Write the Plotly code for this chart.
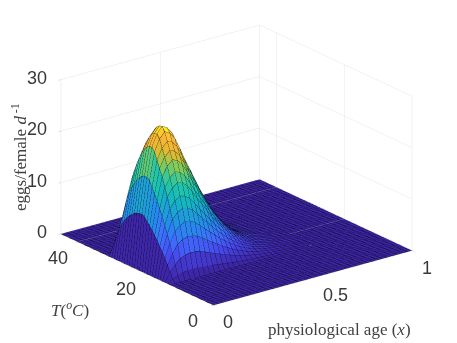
import math
import plotly.graph_objects as go
from plotly.colors import sample_colorscale

x_values = [round(i * 0.025, 3) for i in range(41)]
temperature_values = [i * 0.75 for i in range(61)]
# height along the ridge
age_profile = [0, 10.5, 17.5, 23, 25.3, 26.5, 26, 24.7, 22.5, 20, 17.8, 15.5, 13.2, 11.2, 9.3, 7.6, 6.1,
               4.8, 3.7, 2.8, 2.1, 1.5, 1.1, .8, .55, .35, .2, .1, .05, 0, 0, 0, 0, 0, 0, 0, 0, 0, 0, 0, 0]
# relative height across temperature
temp_profile = [0] * 18 + [.06, .17, .28, .38, .47, .55, .64, .71, .79, .85, .91, .97, 1,
                           .995, .98, .95, .91, .86, .8, .73, .65, .52, .38, .2, .05] + [0] * 18
parula = ["#3e26a8", "#4747eb", "#3e6ffe", "#238cea", "#1ea3d4", "#12beb9", "#31c69f",
          "#81cc59", "#e6b82e", "#fdb73c", "#f9fb15"]
z_ticks = [0, 10, 20, 30]
x_ticks = [0, 0.5, 1]
t_ticks = [0, 20, 40]
x_tick_labels = ["0", "0.5", "1"]
t_tick_labels = ["0", "20", "40"]
z_tick_labels = ["0", "10", "20", "30"]

heights = [[a * t for a in age_profile] for t in temp_profile]
zmax = 26.5
scale = [[i / (len(parula) - 1), c] for i, c in enumerate(parula)]
nx, nt = len(x_values), len(temperature_values)

vx, vy, vz = [], [], []
for j in range(nt):
    for i in range(nx):
        vx.append(x_values[i]); vy.append(temperature_values[j]); vz.append(heights[j][i])
ti, tj, tk, fc = [], [], [], []
for j in range(nt - 1):
    for i in range(nx - 1):
        a = j * nx + i; b = a + 1; c = a + nx; d = c + 1
        col = sample_colorscale(scale, [min(1, heights[j][i] / zmax)])[0]
        ti += [a, a]; tj += [b, d]; tk += [d, c]; fc += [col, col]

lx, ly, lz = [], [], []
for j in range(nt):
    lx += x_values + [None]; ly += [temperature_values[j]] * nx + [None]; lz += heights[j] + [None]
for i in range(nx):
    lx += [x_values[i]] * nt + [None]; ly += temperature_values + [None]
    lz += [heights[j][i] for j in range(nt)] + [None]

fig = go.Figure()
fig.add_trace(go.Mesh3d(x=vx, y=vy, z=vz, i=ti, j=tj, k=tk, facecolor=fc, flatshading=True,
                        lighting=dict(ambient=1, diffuse=0, specular=0, roughness=0.5, fresnel=0.2),
                        hoverinfo="skip", showscale=False))
fig.add_trace(go.Scatter3d(x=lx, y=ly, z=lz, mode="lines", line=dict(color="#000000", width=1),
                           hoverinfo="skip", showlegend=False))

axis = dict(showbackground=False, showgrid=True, gridcolor="#e6e6e6", gridwidth=1, zeroline=False,
            showline=False, ticks="outside", ticklen=3, tickcolor="#bbbbbb", title=dict(text=""),
            showticklabels=False, showspikes=False)
tick_font = dict(family="Liberation Sans", size=18, color="#383838")
scene_notes = []
for v, s in zip(x_ticks, x_tick_labels):
    scene_notes.append(dict(x=v, y=0, z=0, text=s, showarrow=False, xanchor="left", yanchor="middle",
                            xshift=8, yshift=-17, font=tick_font))
for v, s in zip(t_ticks, t_tick_labels):
    scene_notes.append(dict(x=0, y=v, z=0, text=s, showarrow=False, xanchor="center", yanchor="middle",
                            xshift=-20, yshift=-16, font=tick_font))
for v, s in zip(z_ticks, z_tick_labels):
    scene_notes.append(dict(x=0, y=45, z=v, text=s, showarrow=False, xanchor="right", yanchor="middle",
                            xshift=-12, yshift=2, font=tick_font))

az = math.radians(37.5); el = math.radians(21); r = 1.6
k = 1.46
shift = -0.09
fig.update_layout(
    width=457, height=343, margin=dict(l=0, r=0, t=0, b=0), paper_bgcolor="white", showlegend=False,
    scene=dict(
        xaxis=dict(axis, range=[0, 1], tickvals=x_ticks),
        yaxis=dict(axis, range=[0, 45], tickvals=t_ticks),
        zaxis=dict(axis, range=[0, 30], tickvals=z_ticks),
        aspectmode="manual", aspectratio=dict(x=k, y=k, z=0.66 * k),
        annotations=scene_notes,
        camera=dict(projection=dict(type="orthographic"), center=dict(x=0, y=0, z=shift),
                    eye=dict(x=-r * math.sin(az) * math.cos(el), y=-r * math.cos(az) * math.cos(el), z=r * math.sin(el) + shift)),
    ),
    annotations=[
        dict(text="eggs/female <i>d</i><sup> -1</sup>", x=11 / 457, y=1 - 149 / 343, xref="paper", yref="paper",
             xanchor="center", yanchor="middle",
             showarrow=False, textangle=-90, font=dict(family="Liberation Serif", size=17, color="#404040")),
        dict(text="<i>T</i>(<sup><i>o</i></sup><i>C</i>)", x=62 / 457, y=1 - 301 / 343, xref="paper", yref="paper",
             xanchor="center", yanchor="middle",
             showarrow=False, font=dict(family="Liberation Serif", size=17, color="#404040")),
        dict(text="physiological age (<i>x</i>)", x=331 / 457, y=1 - 321 / 343, xref="paper", yref="paper",
             xanchor="center", yanchor="middle",
             showarrow=False, font=dict(family="Liberation Serif", size=17, color="#404040")),
    ],
)
fig.write_html("out.html")
